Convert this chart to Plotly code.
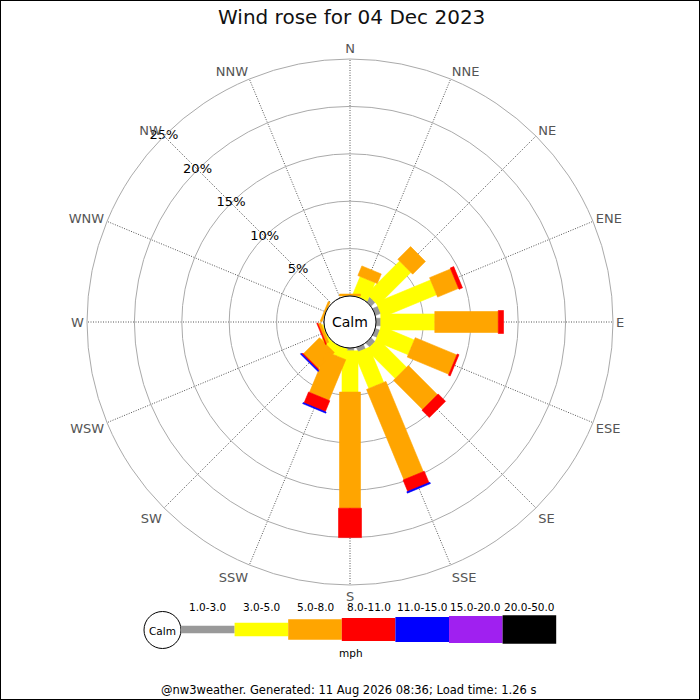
import math
import plotly.graph_objects as go

# ---------------- data ----------------
directions = ["N", "NNE", "NE", "ENE", "E", "ESE", "SE", "SSE",
              "S", "SSW", "SW", "WSW", "W", "WNW", "NW", "NNW"]
direction_angles = [0, 22.5, 45, 67.5, 90, 112.5, 135, 157.5,
                    180, 202.5, 225, 247.5, 270, 292.5, 315, 337.5]
speed_classes = ["1.0-3.0", "3.0-5.0", "5.0-8.0", "8.0-11.0",
                 "11.0-15.0", "15.0-20.0", "20.0-50.0"]
class_colors = ["#999999", "#ffff00", "#ffa500", "#ff0000",
                "#0000ff", "#a020f0", "#000000"]
# percentage of the day per direction, per speed class (mph)
pct_1_3 = [0, 0, 0.6, 0.6, 0.5, 0.5, 0.6, 0.5, 0.3, 0, 0, 0, 0, 0, 0, 0]
pct_3_5 = [0, 2.1, 4.9, 6.2, 5.7, 3.75, 4.25, 4.0, 4.35, 1.1, 0.7, 0.15, 0, 0, 0, 0]
pct_5_8 = [0.2, 1.1, 1.9, 2.4, 6.7, 4.75, 4.35, 10.3, 12.25, 4.65, 2.4, 0.3, 0, 0.2, 0, 0]
pct_8_11 = [0, 0, 0, 0.4, 0.55, 0.2, 1.1, 1.3, 3.1, 1.25, 0.12, 0.1, 0, 0, 0, 0]
pct_11_15 = [0, 0, 0, 0, 0, 0, 0, 0.15, 0, 0.12, 0.12, 0, 0, 0, 0, 0]
pct_15_20 = [0, 0, 0, 0, 0, 0, 0, 0, 0, 0, 0, 0, 0, 0, 0, 0]
pct_20_50 = [0, 0, 0, 0, 0, 0, 0, 0, 0, 0, 0, 0, 0, 0, 0, 0]
radial_ticks = [5, 10, 15, 20, 25]
radial_ticklabels = ["5%", "10%", "15%", "20%", "25%"]
title_text = "Wind rose for 04 Dec 2023"
calm_text = "Calm"
unit_text = "mph"
footer_text = "@nw3weather. Generated: 11 Aug 2026 08:36; Load time: 1.26 s"

series = [pct_1_3, pct_3_5, pct_5_8, pct_8_11, pct_11_15, pct_15_20, pct_20_50]

# ---------------- geometry / style ----------------
W = H = 700
CX, CY = 350, 322          # rose centre (px)
R_OUT = 263                # outer ring radius (px)
HOLE = 26                  # calm circle radius (px)
R_MAX = 25
SCALE = (R_OUT - HOLE) / R_MAX
bar_widths_px = [7.5, 16, 21, 23, 25, 27, 29]
FONT = "DejaVu Sans"


def rect_polygon(theta, r0, r1, width_px):
    """Constant-width bar from r0 to r1 along direction theta, in polar data units."""
    half = width_px / 2.0
    rs, ts = [], []
    for rv, side in [(r0, -1), (r1, -1), (r1, 1), (r0, 1), (r0, -1)]:
        d = HOLE + rv * SCALE
        rho = math.hypot(d, half)
        dth = math.degrees(math.atan2(half, d))
        rs.append((rho - HOLE) / SCALE)
        ts.append(theta + side * dth)
    return rs, ts


fig = go.Figure()

cum = [0.0] * len(directions)
for ci, vals in enumerate(series):
    r_all, t_all = [], []
    for di, v in enumerate(vals):
        if v > 0:
            rs, ts = rect_polygon(direction_angles[di], cum[di], cum[di] + v, bar_widths_px[ci])
            r_all += rs + [None]
            t_all += ts + [None]
        cum[di] += v
    if r_all:
        fig.add_trace(go.Scatterpolar(
            r=r_all, theta=t_all, mode="lines", fill="toself",
            fillcolor=class_colors[ci],
            line=dict(color=class_colors[ci], width=0.6),
            name=speed_classes[ci], hoverinfo="skip", cliponaxis=False,
            showlegend=False,
        ))

# radial tick labels along NW
fig.add_trace(go.Scatterpolar(
    r=radial_ticks, theta=[315] * len(radial_ticks), mode="text",
    text=radial_ticklabels, textposition="middle center",
    textfont=dict(family=FONT, size=13, color="#000000"),
    hoverinfo="skip", cliponaxis=False, showlegend=False,
))

dom_x = [(CX - R_OUT) / W, (CX + R_OUT) / W]
dom_y = [(H - CY - R_OUT) / H, (H - CY + R_OUT) / H]

fig.update_layout(
    width=W, height=H,
    margin=dict(l=0, r=0, t=0, b=0),
    paper_bgcolor="white",
    showlegend=False,
    font=dict(family=FONT),
    polar=dict(
        domain=dict(x=dom_x, y=dom_y),
        hole=HOLE / R_OUT,
        bgcolor="white",
        angularaxis=dict(
            rotation=90, direction="clockwise", thetaunit="degrees",
            tickmode="array", tickvals=direction_angles, ticktext=directions,
            tickfont=dict(family=FONT, size=13, color="#555555"),
            ticks="", showline=True, linecolor="#aaaaaa", linewidth=1,
            showgrid=True, gridcolor="#555555", griddash="1px,1.5px", gridwidth=1,
        ),
        radialaxis=dict(
            range=[0, R_MAX], tickvals=radial_ticks[:-1], showticklabels=False,
            ticks="", showline=False, showgrid=True, gridcolor="#aaaaaa",
            gridwidth=1, angle=135,
        ),
    ),
)


def px(x):
    return x / W


def py(y):
    return 1 - y / H


shapes = []
annotations = []
# calm circle in the centre
shapes.append(dict(type="circle", xref="paper", yref="paper",
                   x0=px(CX - HOLE), x1=px(CX + HOLE), y0=py(CY + HOLE), y1=py(CY - HOLE),
                   fillcolor="white", line=dict(color="#000000", width=1), layer="above"))
annotations.append(dict(xref="paper", yref="paper", x=px(CX), y=py(CY + 0.5), text=calm_text,
                        showarrow=False, xanchor="center", yanchor="middle",
                        font=dict(family=FONT, size=14, color="#000000")))

# speed legend at the bottom
LEG_X0, LEG_SEG, LEG_CY = 181, 53.6, 629.5
leg_heights = [7.7, 13.7, 20.3, 23, 25, 27, 28.3]
shapes.append(dict(type="circle", xref="paper", yref="paper",
                   x0=px(162.5 - 18.5), x1=px(162.5 + 18.5), y0=py(630 + 18.5), y1=py(630 - 18.5),
                   fillcolor="white", line=dict(color="#000000", width=1)))
annotations.append(dict(xref="paper", yref="paper", x=px(162.5), y=py(630.5), text=calm_text,
                        showarrow=False, xanchor="center", yanchor="middle",
                        font=dict(family=FONT, size=10.5, color="#000000")))
for i, lab in enumerate(speed_classes):
    x0 = LEG_X0 + i * LEG_SEG
    h = leg_heights[i]
    shapes.append(dict(type="rect", xref="paper", yref="paper",
                       x0=px(x0), x1=px(x0 + LEG_SEG), y0=py(LEG_CY + h / 2), y1=py(LEG_CY - h / 2),
                       fillcolor=class_colors[i], line=dict(width=0)))
    annotations.append(dict(xref="paper", yref="paper", x=px(x0 + LEG_SEG / 2), y=py(607),
                            text=lab, showarrow=False, xanchor="center", yanchor="middle",
                            font=dict(family=FONT, size=10.5, color="#000000")))
annotations.append(dict(xref="paper", yref="paper", x=px(351), y=py(653), text=unit_text,
                        showarrow=False, xanchor="center", yanchor="middle",
                        font=dict(family=FONT, size=10.5, color="#000000")))
annotations.append(dict(xref="paper", yref="paper", x=px(348), y=py(690), text=footer_text,
                        showarrow=False, xanchor="center", yanchor="middle",
                        font=dict(family=FONT, size=11.5, color="#000000")))
annotations.append(dict(xref="paper", yref="paper", x=px(351), y=py(17), text=title_text,
                        showarrow=False, xanchor="center", yanchor="middle",
                        font=dict(family=FONT, size=20, color="#111111")))
# image frame
shapes.append(dict(type="rect", xref="paper", yref="paper", x0=0, x1=1, y0=0, y1=1,
                   line=dict(color="#000000", width=2), fillcolor="rgba(0,0,0,0)"))

fig.update_layout(shapes=shapes, annotations=annotations)

fig.write_html("out.html", config={"displayModeBar": False},
               post_script="document.body.style.margin='0';document.body.style.overflow='hidden';")
